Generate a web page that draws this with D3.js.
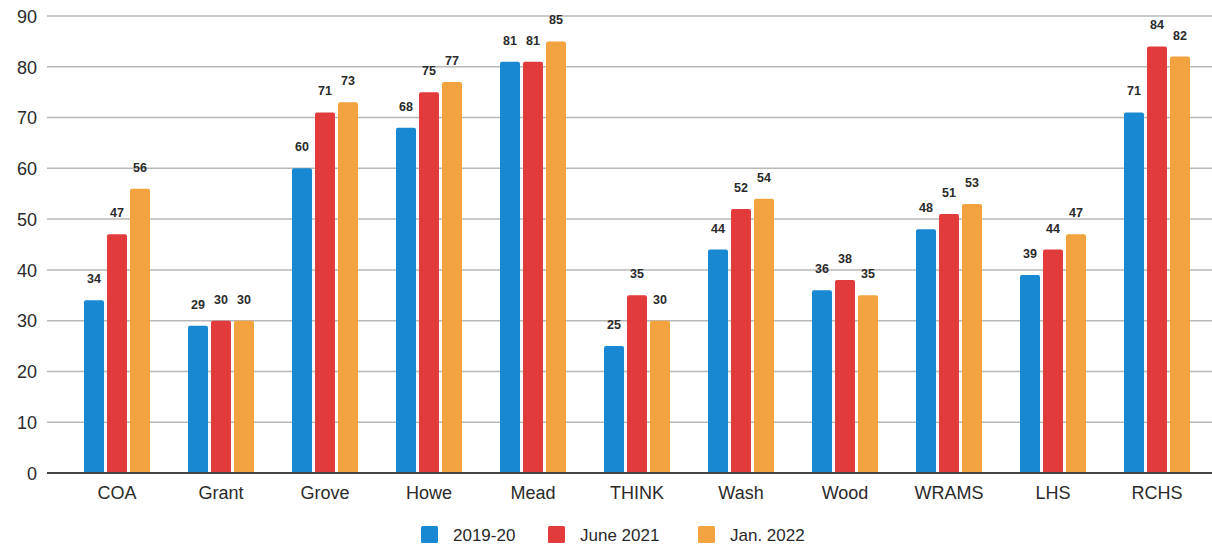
<!DOCTYPE html>
<html>
<head>
<meta charset="utf-8">
<script src="https://cdn.jsdelivr.net/npm/d3@7"></script>
<style>
  html, body { margin: 0; padding: 0; background: #fff; }
  svg { display: block; font-family: "Liberation Sans", Arial, sans-serif; }
</style>
</head>
<body>
<svg id="chart" width="1212" height="545"></svg>
<script>
// School categories along the x axis
const categories = ["COA", "Grant", "Grove", "Howe", "Mead", "THINK", "Wash", "Wood", "WRAMS", "LHS", "RCHS"];
// Series names
const seriesNames = ["2019-20", "June 2021", "Jan. 2022"];
// Values per series
const values2019 = [34, 29, 60, 68, 81, 25, 44, 36, 48, 39, 71];
const valuesJune2021 = [47, 30, 71, 75, 81, 35, 52, 38, 51, 44, 84];
const valuesJan2022 = [56, 30, 73, 77, 85, 30, 54, 35, 53, 47, 82];
// Y axis ticks
const yTicks = [0, 10, 20, 30, 40, 50, 60, 70, 80, 90];

const seriesValues = [values2019, valuesJune2021, valuesJan2022];
const colors = ["#1888d2", "#e23b3b", "#f2a33f"];

const svg = d3.select("#chart");
const gridLeft = 47, gridRight = 1212;

const x = d3.scaleBand().domain(categories).range([65, 1209]).paddingInner(0).paddingOuter(0);
const xInner = d3.scaleBand().domain(d3.range(3)).range([x.bandwidth() / 2 - 33, x.bandwidth() / 2 + 33]).paddingInner(0.13);
const y = d3.scaleLinear().domain([0, 90]).range([473, 16]);

// Horizontal gridlines
svg.append("g").selectAll("line").data(yTicks.filter(d => d > 0)).join("line")
  .attr("x1", gridLeft).attr("x2", gridRight)
  .attr("y1", d => y(d)).attr("y2", d => y(d))
  .attr("stroke", "#b8b8b8").attr("stroke-width", 1.5);

// Y axis tick labels
const yAxis = d3.axisLeft(y).tickValues(yTicks).tickSize(0).tickPadding(0);
const yG = svg.append("g").attr("transform", `translate(37,0)`).call(yAxis);
yG.select(".domain").remove();
yG.selectAll("text").attr("font-size", 18).attr("fill", "#2a2a2a").attr("dy", "0.35em");

// Bars
const groups = svg.append("g").selectAll("g").data(categories).join("g")
  .attr("transform", d => `translate(${x(d)},0)`);

groups.selectAll("path").data((d, i) => seriesValues.map((s, k) => ({k, v: s[i]}))).join("path")
  .attr("d", d => {
    const x0 = xInner(d.k), w = xInner.bandwidth(), y0 = y(d.v), y1 = y(0), r = 2;
    return `M${x0},${y1}V${y0 + r}Q${x0},${y0} ${x0 + r},${y0}H${x0 + w - r}Q${x0 + w},${y0} ${x0 + w},${y0 + r}V${y1}Z`;
  })
  .attr("fill", d => colors[d.k]);

// Value labels
groups.selectAll("text").data((d, i) => seriesValues.map((s, k) => ({k, v: s[i]}))).join("text")
  .attr("x", d => xInner(d.k) + xInner.bandwidth() / 2)
  .attr("y", d => y(d.v) - 17)
  .attr("text-anchor", "middle")
  .attr("font-size", 12.5).attr("font-weight", "bold").attr("fill", "#2a2a2a")
  .text(d => d.v);

// Baseline
svg.append("line").attr("x1", gridLeft).attr("x2", gridRight)
  .attr("y1", y(0)).attr("y2", y(0)).attr("stroke", "#444").attr("stroke-width", 2);

// X axis labels
const xAxis = d3.axisBottom(x).tickSize(0).tickPadding(0);
const xG = svg.append("g").attr("transform", `translate(0,${y(0)})`).call(xAxis);
xG.select(".domain").remove();
xG.selectAll("text").attr("font-size", 18).attr("fill", "#2a2a2a").attr("dy", "0").attr("y", 26);

// Legend
const legendX = [421, 548, 698];
const legend = svg.append("g").selectAll("g").data(seriesNames).join("g")
  .attr("transform", (d, i) => `translate(${legendX[i]},526)`);
legend.append("rect").attr("width", 17).attr("height", 17).attr("rx", 1.5).attr("fill", (d, i) => colors[i]);
legend.append("text").attr("x", 32).attr("y", 15).attr("font-size", 17).attr("fill", "#2a2a2a").text(d => d);
</script>
</body>
</html>
